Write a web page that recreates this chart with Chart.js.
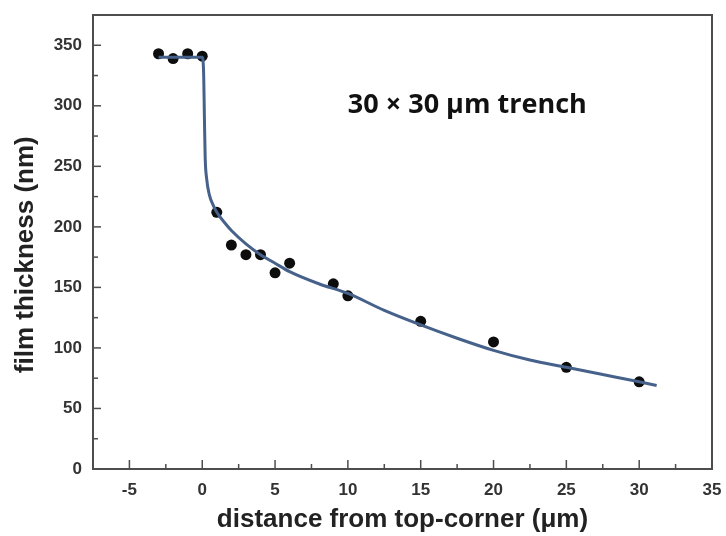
<!DOCTYPE html>
<html>
<head>
<meta charset="utf-8">
<script src="https://cdn.jsdelivr.net/npm/chart.js@4"></script>
<style>
html,body{margin:0;padding:0;background:#fff;}
#c{display:block;}
</style>
</head>
<body>
<canvas id="c" width="726" height="536"></canvas>
<script>
// Measured film thickness (points)
const measX = [-3, -2, -1, 0, 1, 2, 3, 4, 5, 6, 9, 10, 15, 20, 25, 30];
const measY = [343, 339, 343, 341, 212, 185, 177, 177, 162, 170, 153, 143, 122, 105, 84, 72];
// Fitted curve
const fitX = [-3, 0, 0.05, 0.1, 0.15, 0.2, 0.3, 0.5, 0.75, 1, 1.5, 2, 3, 4, 5, 6, 8, 10, 12.5, 15, 17.5, 20, 22.5, 25, 27.5, 30, 31.2];
const fitY = [340, 340, 338, 325, 290, 258, 240, 226, 218, 212, 204, 197, 186, 177, 170, 163, 153, 145, 131, 119, 108, 98, 90, 84, 78, 72, 69];
// Axes
const xTicks = [-5, 0, 5, 10, 15, 20, 25, 30, 35];
const yTicks = [0, 50, 100, 150, 200, 250, 300, 350];
const xTitle = 'distance from top-corner (μm)';
const yTitle = 'film thickness (nm)';
const annotation = '30 × 30 μm trench';

const frameColor = '#4d4d4d';

const framePlugin = {
  id: 'frameTicks',
  afterDatasetsDraw(chart) {
    const {ctx, chartArea: a, scales} = chart;
    const xs = scales.x, ys = scales.y;
    ctx.save();
    ctx.strokeStyle = frameColor;
    ctx.lineWidth = 1.5;
    for (let v = -5; v <= 35; v += 2.5) {
      const px = xs.getPixelForValue(v);
      if (px <= a.left + 1 || px >= a.right - 1) continue;
      const major = Math.abs(v % 5) < 1e-9;
      const len = major ? 9 : 5;
      ctx.beginPath();
      ctx.moveTo(px, a.bottom);
      ctx.lineTo(px, a.bottom - len);
      ctx.stroke();
    }
    for (let v = 25; v <= 350; v += 25) {
      const py = ys.getPixelForValue(v);
      const major = v % 50 === 0;
      const len = major ? 8 : 5;
      ctx.beginPath();
      ctx.moveTo(a.left, py);
      ctx.lineTo(a.left + len, py);
      ctx.stroke();
    }
    ctx.lineWidth = 2;
    ctx.strokeRect(a.left, a.top, a.right - a.left, a.bottom - a.top);
    // annotation
    ctx.fillStyle = '#111';
    ctx.font = 'bold 27px "Open Sans", sans-serif';
    ctx.textAlign = 'center';
    ctx.textBaseline = 'middle';
    ctx.fillText(annotation, xs.getPixelForValue(18.2), ys.getPixelForValue(300.5));
    // y axis title
    ctx.fillStyle = '#222';
    ctx.font = 'bold 26px "Liberation Sans", Arial, sans-serif';
    ctx.translate(26, ys.getPixelForValue(177));
    ctx.rotate(-Math.PI / 2);
    ctx.fillText(yTitle, 0, 0);
    ctx.restore();
  }
};

new Chart(document.getElementById('c'), {
  type: 'scatter',
  data: {
    datasets: [
      {
        label: 'fit',
        data: fitX.map((x, i) => ({x, y: fitY[i]})),
        showLine: true,
        borderColor: '#46618a',
        borderWidth: 3,
        pointRadius: 0,
        cubicInterpolationMode: 'monotone',
        fill: false,
        order: 0
      },
      {
        label: 'measured',
        data: measX.map((x, i) => ({x, y: measY[i]})),
        backgroundColor: '#0d0d0d',
        borderColor: '#0d0d0d',
        pointRadius: 5.5,
        pointBorderWidth: 0,
        order: 1
      }
    ]
  },
  options: {
    responsive: false,
    animation: false,
    devicePixelRatio: 1,
    layout: {padding: {top: 15, right: 14, left: 0, bottom: 0}},
    plugins: {legend: {display: false}, tooltip: {enabled: false}},
    scales: {
      x: {
        type: 'linear',
        min: -7.5,
        max: 35,
        afterFit: s => { s.height = 67; s.paddingLeft = 0; s.paddingRight = 0; },
        afterBuildTicks: s => { s.ticks = xTicks.map(v => ({value: v})); },
        grid: {display: true, drawOnChartArea: false, drawTicks: false},
        border: {display: false},
        ticks: {
          padding: 11,
          color: '#333',
          font: {family: '"Liberation Sans", Arial, sans-serif', size: 17, weight: 'bold'}
        },
        title: {
          display: true,
          text: xTitle,
          color: '#222',
          padding: {top: 2, bottom: 1},
          font: {family: '"Liberation Sans", Arial, sans-serif', size: 26, weight: 'bold'}
        }
      },
      y: {
        type: 'linear',
        min: 0,
        max: 375,
        afterFit: s => { s.width = 93; s.paddingTop = 0; s.paddingBottom = 0; },
        afterBuildTicks: s => { s.ticks = yTicks.map(v => ({value: v})); },
        grid: {display: true, drawOnChartArea: false, drawTicks: false},
        border: {display: false},
        ticks: {
          padding: 11,
          color: '#333',
          font: {family: '"Liberation Sans", Arial, sans-serif', size: 17, weight: 'bold'}
        },
        title: {display: false, text: yTitle}
      }
    }
  },
  plugins: [framePlugin]
});
</script>
</body>
</html>
